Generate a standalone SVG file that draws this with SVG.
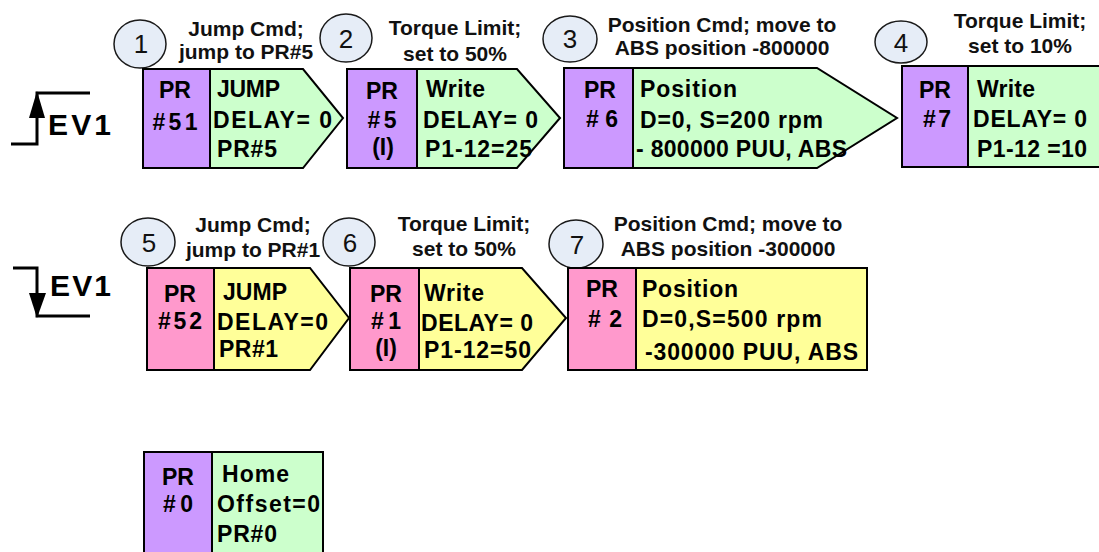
<svg xmlns="http://www.w3.org/2000/svg" width="1099" height="552" viewBox="0 0 1099 552">
<style>
.pu{fill:#CC99FF;stroke:#000;stroke-width:2}
.gr{fill:#CCFFCC;stroke:#000;stroke-width:2}
.pk{fill:#FF99CC;stroke:#000;stroke-width:2}
.ye{fill:#FFFF99;stroke:#000;stroke-width:2}
.ci{fill:#E6EDF7;stroke:#1a1a1a;stroke-width:1.5}
.t{font-family:"Liberation Sans",Arial,sans-serif;font-weight:bold;font-size:23px;fill:#000}
.c{text-anchor:middle}
.lb{font-family:"Liberation Sans",Arial,sans-serif;font-weight:bold;font-size:21px;fill:#111;text-anchor:middle}
.dg{font-family:"Liberation Sans",Arial,sans-serif;font-size:26px;fill:#111;text-anchor:middle}
.ev{font-family:"Liberation Sans",Arial,sans-serif;font-weight:bold;font-size:30px;fill:#000}
.ln{fill:none;stroke:#000;stroke-width:3}
</style>

<g id="ev1-rise">
<polyline class="ln" points="11,144 37,144 37,93 90,93"/>
<polygon points="37,91 29,118 45,118" fill="#000"/>
<text class="ev" x="48" y="135" textLength="63" lengthAdjust="spacing">EV1</text>
</g>

<g id="ev1-fall">
<polyline class="ln" points="13,268 37,268 37,316 90,316"/>
<polygon points="37,318 29,293 46,293" fill="#000"/>
<text class="ev" x="50" y="296" textLength="61" lengthAdjust="spacing">EV1</text>
</g>

<g id="node-pr51">
<ellipse class="ci" cx="140" cy="44" rx="26" ry="24"/>
<text class="dg" x="141" y="53">1</text>
<text class="lb" x="246" y="36">Jump Cmd;</text>
<text class="lb" x="246" y="59">jump to PR#5</text>
<rect class="pu" x="143" y="69" width="67" height="99"/>
<polygon class="gr" points="210,69 303,69 343,118 303,168 210,168"/>
<text class="t c" x="175" y="98">PR</text>
<text class="t c" x="175" y="130" textLength="45" lengthAdjust="spacing">#51</text>
<text class="t" x="217" y="97" textLength="63" lengthAdjust="spacing">JUMP</text>
<text class="t" x="213" y="128" textLength="119" lengthAdjust="spacing">DELAY= 0</text>
<text class="t" x="217" y="157" textLength="60" lengthAdjust="spacing">PR#5</text>
</g>

<g id="node-pr5">
<ellipse class="ci" cx="346" cy="38" rx="26" ry="24"/>
<text class="dg" x="346" y="48">2</text>
<text class="lb" x="455" y="35">Torque Limit;</text>
<text class="lb" x="455" y="61">set to 50%</text>
<rect class="pu" x="347" y="69" width="70" height="99"/>
<polygon class="gr" points="417,69 517,69 560,118 517,168 417,168"/>
<text class="t c" x="382" y="99">PR</text>
<text class="t c" x="382" y="128" textLength="29" lengthAdjust="spacing">#5</text>
<text class="t c" x="383" y="155">(I)</text>
<text class="t" x="426" y="97" textLength="59" lengthAdjust="spacing">Write</text>
<text class="t" x="423" y="128" textLength="115" lengthAdjust="spacing">DELAY= 0</text>
<text class="t" x="425" y="157" textLength="107" lengthAdjust="spacing">P1-12=25</text>
</g>

<g id="node-pr6">
<ellipse class="ci" cx="570" cy="39" rx="27" ry="23"/>
<text class="dg" x="570" y="48">3</text>
<text class="lb" x="722" y="32">Position Cmd; move to</text>
<text class="lb" x="722" y="55">ABS position -800000</text>
<rect class="pu" x="564" y="68" width="69" height="100"/>
<polygon class="gr" points="633,68 817,68 897,118 817,168 633,168"/>
<text class="t c" x="600" y="98">PR</text>
<text class="t c" x="602" y="127" textLength="32" lengthAdjust="spacing"># 6</text>
<text class="t" x="640" y="97" textLength="97" lengthAdjust="spacing">Position</text>
<text class="t" x="640" y="128" textLength="183" lengthAdjust="spacing">D=0, S=200 rpm</text>
<text class="t" x="636" y="157" textLength="211" lengthAdjust="spacing">- 800000 PUU, ABS</text>
</g>

<g id="node-pr7">
<ellipse class="ci" cx="901" cy="42" rx="26" ry="21"/>
<text class="dg" x="901" y="52">4</text>
<text class="lb" x="1020" y="28">Torque Limit;</text>
<text class="lb" x="1020" y="53">set to 10%</text>
<rect class="pu" x="902" y="66" width="66" height="101"/>
<rect class="gr" x="968" y="66" width="140" height="101"/>
<text class="t c" x="935" y="98">PR</text>
<text class="t c" x="937" y="127" textLength="28" lengthAdjust="spacing">#7</text>
<text class="t" x="977" y="97" textLength="58" lengthAdjust="spacing">Write</text>
<text class="t" x="973" y="127" textLength="114" lengthAdjust="spacing">DELAY= 0</text>
<text class="t" x="977" y="157" textLength="110" lengthAdjust="spacing">P1-12 =10</text>
</g>

<g id="node-pr52">
<ellipse class="ci" cx="148" cy="242" rx="27" ry="24"/>
<text class="dg" x="149" y="252">5</text>
<text class="lb" x="253" y="232">Jump Cmd;</text>
<text class="lb" x="253" y="257">jump to PR#1</text>
<rect class="pk" x="147" y="268" width="67" height="102"/>
<polygon class="ye" points="214,268 310,268 349,318 310,370 214,370"/>
<text class="t c" x="180" y="302">PR</text>
<text class="t c" x="180" y="329" textLength="44" lengthAdjust="spacing">#52</text>
<text class="t" x="223" y="300" textLength="64" lengthAdjust="spacing">JUMP</text>
<text class="t" x="217" y="330" textLength="111" lengthAdjust="spacing">DELAY=0</text>
<text class="t" x="219" y="357" textLength="59" lengthAdjust="spacing">PR#1</text>
</g>

<g id="node-pr1">
<ellipse class="ci" cx="349" cy="242" rx="26" ry="24"/>
<text class="dg" x="350" y="252">6</text>
<text class="lb" x="464" y="231">Torque Limit;</text>
<text class="lb" x="464" y="256">set to 50%</text>
<rect class="pk" x="350" y="268" width="69" height="102"/>
<polygon class="ye" points="419,268 522,268 566,318 522,370 419,370"/>
<text class="t c" x="386" y="302">PR</text>
<text class="t c" x="386" y="329" textLength="30" lengthAdjust="spacing"># 1</text>
<text class="t c" x="386" y="356">(I)</text>
<text class="t" x="424" y="301" textLength="60" lengthAdjust="spacing">Write</text>
<text class="t" x="421" y="331" textLength="112" lengthAdjust="spacing">DELAY= 0</text>
<text class="t" x="424" y="358" textLength="107" lengthAdjust="spacing">P1-12=50</text>
</g>

<g id="node-pr2">
<ellipse class="ci" cx="576" cy="244" rx="27" ry="24"/>
<text class="dg" x="577" y="254">7</text>
<text class="lb" x="728" y="231">Position Cmd; move to</text>
<text class="lb" x="728" y="256">ABS position -300000</text>
<rect class="pk" x="568" y="268" width="68" height="102"/>
<rect class="ye" x="636" y="268" width="231" height="102"/>
<text class="t c" x="602" y="297">PR</text>
<text class="t c" x="605" y="327" textLength="34" lengthAdjust="spacing"># 2</text>
<text class="t" x="642" y="297" textLength="96" lengthAdjust="spacing">Position</text>
<text class="t" x="642" y="327" textLength="180" lengthAdjust="spacing">D=0,S=500 rpm</text>
<text class="t" x="645" y="360" textLength="213" lengthAdjust="spacing">-300000 PUU, ABS</text>
</g>

<g id="node-pr0">
<rect class="pu" x="144" y="452" width="68" height="110"/>
<rect class="gr" x="212" y="452" width="111" height="110"/>
<text class="t c" x="178" y="485">PR</text>
<text class="t c" x="178" y="512" textLength="30" lengthAdjust="spacing">#0</text>
<text class="t" x="222" y="482" textLength="67" lengthAdjust="spacing">Home</text>
<text class="t" x="217" y="512" textLength="103" lengthAdjust="spacing">Offset=0</text>
<text class="t" x="217" y="542" textLength="60" lengthAdjust="spacing">PR#0</text>
</g>

<g id="connectors"/>
</svg>
